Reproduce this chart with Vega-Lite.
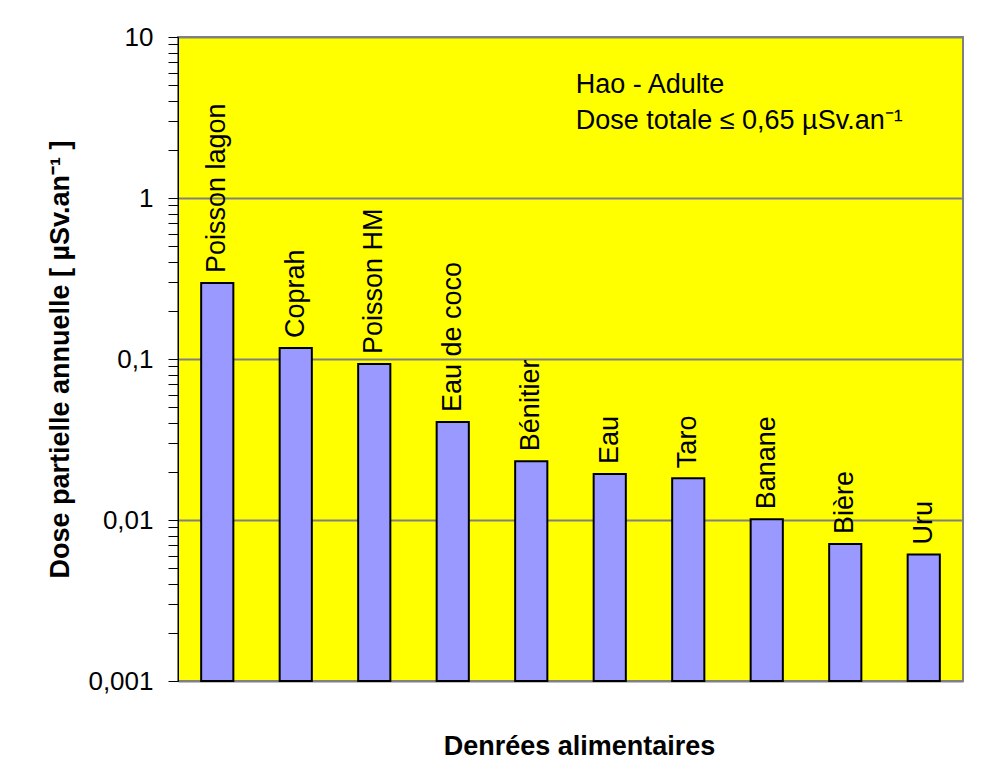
{
  "$schema": "https://vega.github.io/schema/vega-lite/v6.json",
  "width": 785,
  "height": 644,
  "autosize": {"type": "none"},
  "padding": {"left": 178, "top": 37, "right": 28, "bottom": 84},
  "background": "white",
  "config": {
    "font": "Liberation Sans",
    "view": {"fill": "#FFFF00", "stroke": "#808080", "strokeWidth": 2}
  },
  "datasets": {
    "doses": [
      {"denree": "Poisson lagon", "dose": 0.296},
      {"denree": "Coprah", "dose": 0.117},
      {"denree": "Poisson HM", "dose": 0.093},
      {"denree": "Eau de coco", "dose": 0.0406},
      {"denree": "Bénitier", "dose": 0.0232},
      {"denree": "Eau", "dose": 0.0193},
      {"denree": "Taro", "dose": 0.0182},
      {"denree": "Banane", "dose": 0.0101},
      {"denree": "Bière", "dose": 0.0071},
      {"denree": "Uru", "dose": 0.0061}
    ],
    "notes": [
      {"denree": "Eau", "dose": 5.0, "texte": "Hao - Adulte"},
      {"denree": "Eau", "dose": 3.0, "texte": "Dose totale ≤ 0,65 µSv.an⁻¹"}
    ]
  },
  "layer": [
    {
      "data": {"name": "doses"},
      "mark": {"type": "bar", "fill": "#9999FF", "stroke": "black", "strokeWidth": 2},
      "encoding": {
        "x": {
          "field": "denree", "type": "nominal", "sort": null,
          "scale": {"paddingInner": 0.59, "paddingOuter": 0.295},
          "axis": {"labels": false, "ticks": false, "domain": false, "title": "Denrées alimentaires",
                   "titleFontSize": 27, "titleFontWeight": "bold", "titlePadding": 52, "titleColor": "black",
                   "titleX": 401}
        },
        "y": {
          "field": "dose", "type": "quantitative",
          "scale": {"type": "log", "domain": [0.001, 10], "nice": false},
          "axis": {
            "title": "Dose partielle annuelle [ µSv.an⁻¹ ]",
            "titleFontSize": 27, "titleFontWeight": "bold", "titleColor": "black", "titlePadding": 13,
            "values": [0.001,0.002,0.003,0.004,0.005,0.006,0.007,0.008,0.009,0.01,0.02,0.03,0.04,0.05,0.06,0.07,0.08,0.09,0.1,0.2,0.3,0.4,0.5,0.6,0.7,0.8,0.9,1,2,3,4,5,6,7,8,9,10],
            "labelExpr": "abs(log(datum.value)/LN10 - round(log(datum.value)/LN10)) < 0.0001 ? (datum.value >= 1 ? format(datum.value, 'd') : replace(format(datum.value, '.3~f'), '.', ',')) : ''",
            "labelFontSize": 26, "labelColor": "black", "labelPadding": 15,
            "tickSize": 10, "tickColor": "black", "tickWidth": 1,
            "domainColor": "black", "domainWidth": 1,
            "grid": true,
            "gridColor": {"condition": {"test": "abs(log(datum.value)/LN10 - round(log(datum.value)/LN10)) < 0.0001", "value": "#808080"}, "value": "transparent"},
            "gridWidth": 2
          }
        },
        "y2": {"datum": 0.001}
      }
    },
    {
      "data": {"name": "doses"},
      "mark": {"type": "text", "angle": 270, "align": "left", "baseline": "middle", "dx": 10, "fontSize": 27, "color": "black"},
      "encoding": {
        "x": {"field": "denree", "type": "nominal", "sort": null},
        "y": {"field": "dose", "type": "quantitative"},
        "text": {"field": "denree"}
      }
    },
    {
      "data": {"name": "notes"},
      "mark": {"type": "text", "align": "left", "baseline": "middle", "dx": -18, "fontSize": 27, "color": "black"},
      "encoding": {
        "x": {"field": "denree", "type": "nominal", "sort": null, "bandPosition": 0},
        "y": {"field": "dose", "type": "quantitative"},
        "text": {"field": "texte"}
      }
    }
  ]
}
